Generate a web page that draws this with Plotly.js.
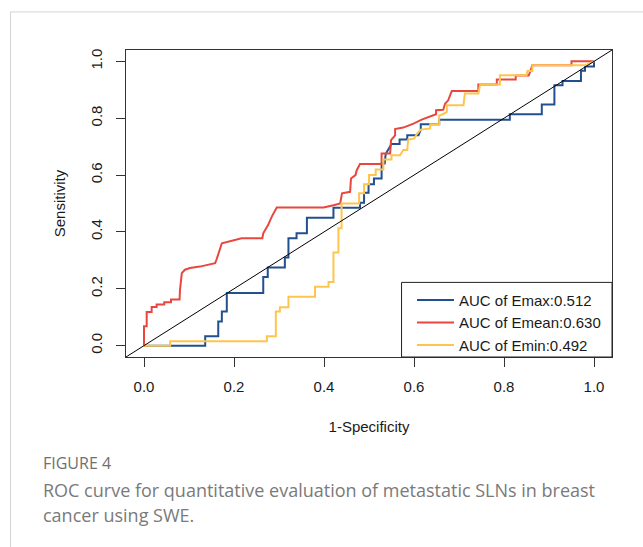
<!DOCTYPE html>
<html>
<head>
<meta charset="utf-8">
<script src="https://cdn.plot.ly/plotly-3.0.1.min.js"></script>
<style>html,body{margin:0;padding:0;background:#fff;}#chart{width:643px;height:547px;}</style>
</head>
<body>
<div id="chart"></div>
<script>
// ---- Data ----
const seriesNames = ['AUC of Emax:0.512', 'AUC of Emean:0.630', 'AUC of Emin:0.492'];

const fprEmax = [0,0.136,0.136,0.165,0.165,0.173,0.173,0.184,0.184,0.265,0.265,0.275,0.275,0.313,0.313,0.321,0.321,0.339,0.339,0.362,0.362,0.421,0.421,0.48,0.48,0.489,0.489,0.499,0.499,0.511,0.511,0.528,0.528,0.535,0.537,0.55,0.568,0.568,0.585,0.585,0.61,0.615,0.615,0.656,0.656,0.813,0.813,0.884,0.884,0.912,0.912,0.93,0.93,0.971,0.971,0.98,0.98,1,1];
const tprEmax = [0,0,0.033,0.033,0.085,0.085,0.12,0.12,0.185,0.185,0.241,0.241,0.275,0.275,0.31,0.31,0.378,0.378,0.395,0.395,0.45,0.45,0.485,0.485,0.503,0.503,0.538,0.538,0.568,0.568,0.588,0.588,0.641,0.641,0.674,0.709,0.709,0.725,0.725,0.74,0.74,0.76,0.779,0.779,0.795,0.795,0.814,0.814,0.848,0.848,0.916,0.916,0.931,0.931,0.967,0.967,0.982,0.982,1];

const fprEmean = [0,0,0.006,0.006,0.017,0.017,0.028,0.028,0.045,0.045,0.06,0.06,0.079,0.08,0.084,0.091,0.102,0.124,0.158,0.161,0.173,0.202,0.217,0.263,0.265,0.276,0.284,0.295,0.399,0.421,0.436,0.44,0.458,0.46,0.47,0.473,0.48,0.528,0.528,0.547,0.549,0.558,0.558,0.576,0.599,0.617,0.649,0.649,0.665,0.669,0.676,0.684,0.743,0.743,0.784,0.784,0.826,0.826,0.855,0.863,0.95,0.95,0.98,1];
const tprEmean = [0,0.068,0.068,0.118,0.118,0.136,0.136,0.145,0.145,0.153,0.153,0.162,0.162,0.196,0.255,0.267,0.273,0.278,0.29,0.302,0.36,0.372,0.378,0.378,0.395,0.425,0.454,0.486,0.486,0.494,0.5,0.536,0.541,0.588,0.6,0.618,0.639,0.639,0.676,0.676,0.723,0.74,0.762,0.767,0.781,0.795,0.814,0.828,0.83,0.851,0.863,0.896,0.896,0.919,0.919,0.936,0.936,0.95,0.95,0.986,0.986,1,1,1];

const fprEmin = [0,0.058,0.058,0.273,0.273,0.293,0.293,0.302,0.302,0.321,0.321,0.38,0.38,0.41,0.41,0.421,0.421,0.432,0.432,0.439,0.439,0.478,0.478,0.489,0.489,0.5,0.5,0.515,0.515,0.532,0.532,0.55,0.55,0.569,0.576,0.585,0.587,0.6,0.607,0.615,0.636,0.636,0.656,0.656,0.665,0.673,0.673,0.71,0.713,0.743,0.747,0.791,0.791,0.85,0.852,0.863,0.863,0.98,0.99,1];
const tprEmin = [0,0,0.015,0.015,0.033,0.033,0.12,0.12,0.135,0.135,0.172,0.172,0.207,0.207,0.224,0.224,0.328,0.328,0.413,0.413,0.5,0.5,0.536,0.536,0.568,0.568,0.6,0.6,0.62,0.62,0.655,0.655,0.67,0.67,0.688,0.688,0.725,0.728,0.746,0.76,0.764,0.779,0.779,0.81,0.815,0.822,0.846,0.846,0.887,0.887,0.919,0.919,0.951,0.951,0.966,0.966,0.986,0.986,0.993,1];

const xTickVals = [0, 0.2, 0.4, 0.6, 0.8, 1.0];
const yTickVals = [0, 0.2, 0.4, 0.6, 0.8, 1.0];

const colors = ['#22508f', '#e9473d', '#fec54e'];

const traces = [
  {x: fprEmax, y: tprEmax, name: seriesNames[0]},
  {x: fprEmean, y: tprEmean, name: seriesNames[1]},
  {x: fprEmin, y: tprEmin, name: seriesNames[2]}
].map((t, i) => Object.assign(t, {
  type: 'scatter', mode: 'lines',
  line: {color: colors[i], width: 2},
  hoverinfo: 'skip'
}));

const axisCommon = {
  range: [-0.04, 1.04],
  tickformat: '.1f',
  ticks: 'outside', ticklen: 9, tickwidth: 1, tickcolor: '#333',
  showline: true, mirror: true, linecolor: '#333', linewidth: 1,
  showgrid: false, zeroline: false, fixedrange: true,
  tickfont: {size: 15, color: '#1a1a1a'},
  automargin: false
};

const layout = {
  width: 643, height: 547,
  margin: {l: 126, r: 31, t: 50, b: 190},
  paper_bgcolor: '#ffffff', plot_bgcolor: '#ffffff',
  font: {family: '"Liberation Sans", Arial, sans-serif', size: 15, color: '#1a1a1a'},
  showlegend: true,
  xaxis: Object.assign({}, axisCommon, {
    tickvals: xTickVals, ticklabelstandoff: 7,
    title: {text: '1-Specificity', standoff: 27, font: {size: 15}}
  }),
  yaxis: Object.assign({}, axisCommon, {
    tickvals: yTickVals, tickangle: -90, ticklabelstandoff: 8,
    title: {text: 'Sensitivity', standoff: 18, font: {size: 15}}
  }),
  legend: {
    x: 0.5885, xanchor: 'left', y: 0.2385, yanchor: 'top',
    bgcolor: 'rgba(0,0,0,0)', borderwidth: 0,
    itemwidth: 37, tracegroupgap: 0,
    font: {size: 15, color: '#1a1a1a'}
  },
  shapes: [
    {type: 'line', xref: 'paper', yref: 'paper', x0: 0, y0: 0, x1: 1, y1: 1, line: {color: '#000', width: 1}},
    {type: 'rect', xref: 'paper', yref: 'paper', x0: 0.567, y0: 0, x1: 1, y1: 0.243, line: {color: '#222', width: 1}, fillcolor: 'rgba(0,0,0,0)'},
    {type: 'line', xref: 'paper', yref: 'paper', x0: -0.2377, y0: 1.124, x1: 1.07, y1: 1.124, line: {color: '#d4d4d4', width: 1}},
    {type: 'line', xref: 'paper', yref: 'paper', x0: -0.2377, y0: 1.124, x1: -0.2377, y1: -0.62, line: {color: '#d4d4d4', width: 1}}
  ],
  annotations: [
    {xref: 'paper', yref: 'paper', x: -0.1749, y: -0.3463, xanchor: 'left', yanchor: 'middle', showarrow: false,
     text: 'FIGURE 4', font: {family: '"Open Sans", sans-serif', size: 16, color: '#707070'}},
    {xref: 'paper', yref: 'paper', x: -0.1749, y: -0.4341, xanchor: 'left', yanchor: 'middle', showarrow: false,
     text: 'ROC curve for quantitative evaluation of metastatic SLNs in breast', font: {family: '"Open Sans", sans-serif', size: 18, color: '#7a7a7a'}},
    {xref: 'paper', yref: 'paper', x: -0.1749, y: -0.5153, xanchor: 'left', yanchor: 'middle', showarrow: false,
     text: 'cancer using SWE.', font: {family: '"Open Sans", sans-serif', size: 18, color: '#7a7a7a'}}
  ]
};

Plotly.newPlot('chart', traces, layout, {displayModeBar: false, staticPlot: true});
</script>
</body>
</html>
